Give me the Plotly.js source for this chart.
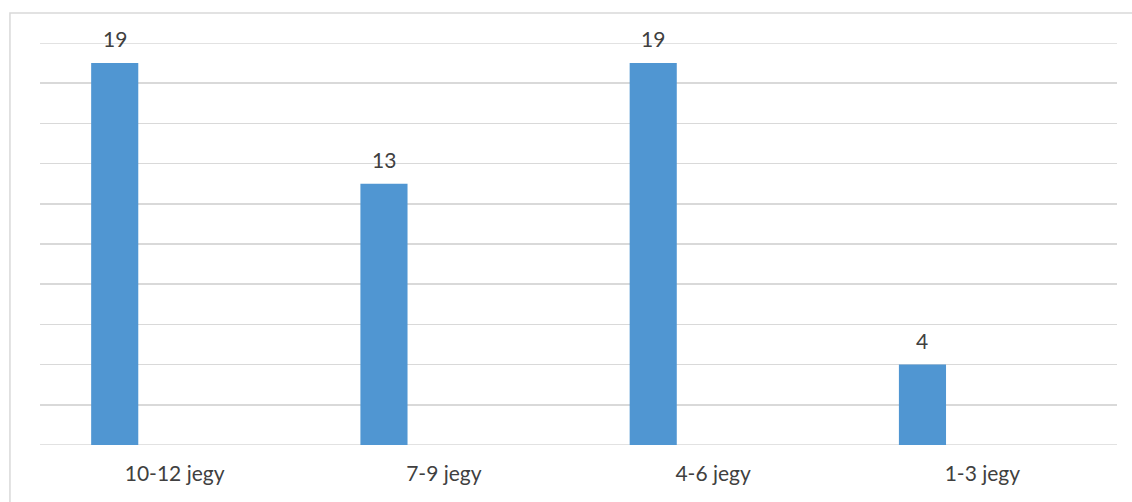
<!DOCTYPE html>
<html>
<head>
<meta charset="utf-8">
<script src="https://cdn.plot.ly/plotly-3.0.1.min.js"></script>
<style>html,body{margin:0;padding:0;background:#fff;}#chart{width:1132px;height:502px;}</style>
</head>
<body>
<div id="chart"></div>
<script>
const categories = ["10-12 jegy", "7-9 jegy", "4-6 jegy", "1-3 jegy"];
const values = [19, 13, 19, 4];
const yRange = [0, 20];

const barColor = "#5096D2";
const textColor = "#404040";
const gridColor = "#D9D9D9";
const fontFamily = "Lato, 'Open Sans', sans-serif";

const trace = {
  type: "bar",
  x: categories,
  y: values,
  width: 0.175,
  offset: -0.31,
  marker: { color: barColor },
  hoverinfo: "x+y"
};

const annotations = categories.map((c, i) => ({
  x: c, y: values[i], xref: "x", yref: "y",
  text: String(values[i]),
  showarrow: false,
  xanchor: "center", yanchor: "bottom",
  xshift: -60, yshift: 10,
  font: { family: fontFamily, size: 21, color: textColor }
}));

// edge gridlines (Plotly omits gridlines exactly at the range ends)
const edgeLines = yRange.map(v => ({
  type: "line", xref: "paper", yref: "y",
  x0: 0, x1: 1, y0: v, y1: v,
  line: { color: gridColor, width: 1.5 },
  layer: "below"
}));

const layout = {
  width: 1132, height: 502,
  margin: { l: 40, r: 15, t: 43, b: 56.5, pad: 0 },
  paper_bgcolor: "#ffffff",
  plot_bgcolor: "#ffffff",
  showlegend: false,
  font: { family: fontFamily, size: 21, color: textColor },
  xaxis: {
    type: "category",
    range: [-0.5, 3.5],
    showgrid: false, zeroline: false, showline: false,
    ticks: "", ticklen: 0,
    ticklabelstandoff: 14,
    tickfont: { family: fontFamily, size: 21, color: textColor }
  },
  yaxis: {
    range: yRange,
    dtick: 2,
    showticklabels: false,
    showgrid: true, gridcolor: gridColor, gridwidth: 1.5,
    zeroline: false, showline: false, ticks: ""
  },
  annotations: annotations,
  shapes: [{
    type: "rect", xref: "paper", yref: "paper",
    x0: -0.0279, x1: 1.05, y0: -0.2, y1: 1.0745,
    line: { color: gridColor, width: 1.5 },
    fillcolor: "rgba(0,0,0,0)",
    layer: "below"
  }].concat(edgeLines)
};

Plotly.newPlot("chart", [trace], layout, { displayModeBar: false, staticPlot: true });
</script>
</body>
</html>
